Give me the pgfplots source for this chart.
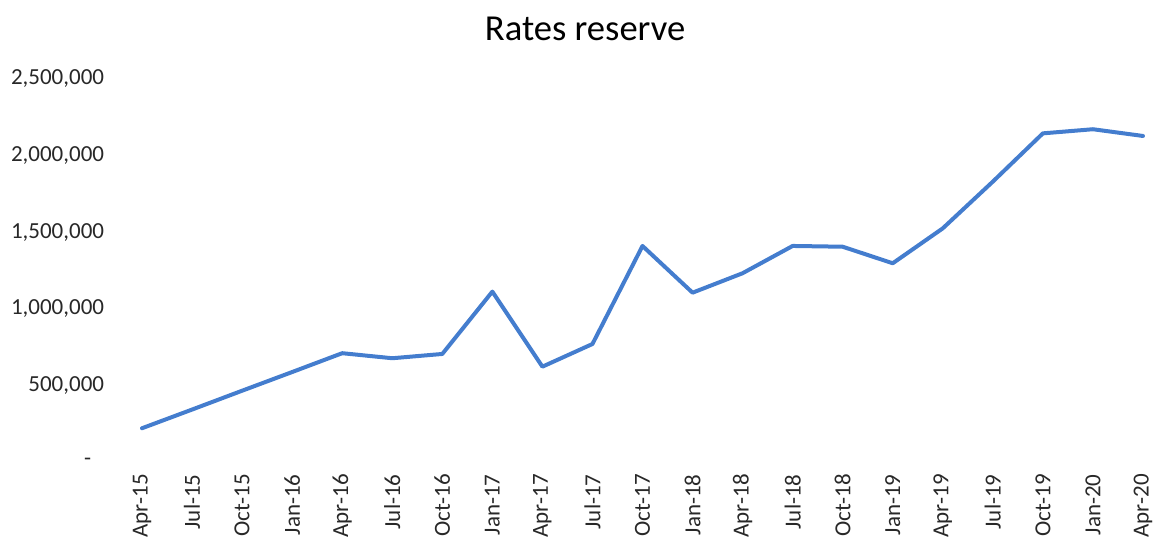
\documentclass[border=0pt]{standalone}
\usepackage{fontspec}
\setmainfont{Carlito}
\usepackage{pgfplots}
\pgfplotsset{compat=1.18}
\definecolor{linecol}{RGB}{68,125,206}
\definecolor{txt}{RGB}{40,40,40}
\begin{document}
\begin{tikzpicture}
\begin{axis}[
  scale only axis,
  width=529.3pt, height=191.5pt,
  xmin=-0.75, xmax=20.4,
  ymin=0, ymax=2500000,
  scaled y ticks=false,
  axis line style={draw=none},
  major tick style={draw=none},
  xtick={0,...,20},
  xticklabels={Apr-15,Jul-15,Oct-15,Jan-16,Apr-16,Jul-16,Oct-16,Jan-17,Apr-17,Jul-17,Oct-17,Jan-18,Apr-18,Jul-18,Oct-18,Jan-19,Apr-19,Jul-19,Oct-19,Jan-20,Apr-20},
  xticklabel shift=6pt,
  xticklabel style={rotate=90, anchor=east, inner sep=0pt, font=\fontsize{11.5}{13}\selectfont, text=txt},
  ytick={0,500000,1000000,1500000,2000000,2500000},
  yticklabels={{-\rule{6.5pt}{0pt}},{500,000},{1,000,000},{1,500,000},{2,000,000},{2,500,000}},
  yticklabel style={anchor=east, inner sep=0pt, font=\fontsize{11.5}{13}\selectfont, text=txt},
  clip=false,
]
\addplot[color=linecol, line width=2pt, line join=round, line cap=round] coordinates {
(0,220000) (1,342000) (2,465000) (3,587000) (4,710000) (5,677000) (6,705000)
(7,1112000) (8,622000) (9,770000) (10,1410000) (11,1105000) (12,1232000)
(13,1410000) (14,1405000) (15,1297000) (16,1525000) (17,1830000) (18,2145000)
(19,2172000) (20,2128000)
};
\node[anchor=base, font=\fontsize{18.3}{22}\selectfont, text=black] at ([yshift=19pt]rel axis cs:0.454,1) {Rates reserve};
\coordinate (bl) at (rel axis cs:0,0);
\coordinate (tr) at (rel axis cs:1,1);
\end{axis}
\pgfresetboundingbox
\path (bl) ++(-52.25pt,-43.5pt) rectangle ([yshift=39.5pt]tr);
\end{tikzpicture}
\end{document}
